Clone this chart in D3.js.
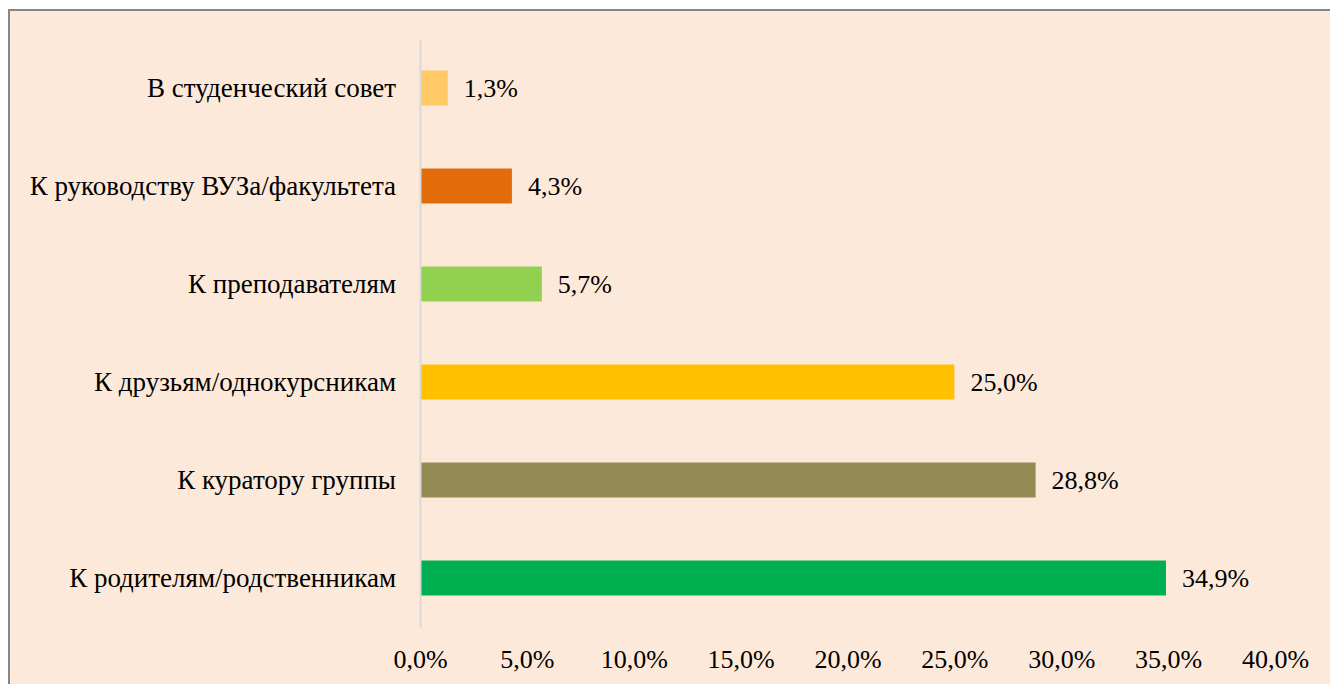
<!DOCTYPE html>
<html lang="ru">
<head>
<meta charset="UTF-8">
<title>Обращения</title>
<script src="https://cdn.jsdelivr.net/npm/d3@7"></script>
<style>
  body { margin: 0; background: #fff; }
</style>
</head>
<body>
<svg width="1330" height="684"></svg>
<script>
    // данные
    var categories = ["В студенческий совет", "К руководству ВУЗа/факультета", "К преподавателям",
                      "К друзьям/однокурсникам", "К куратору группы", "К родителям/родственникам"];
    var values = [1.3, 4.3, 5.7, 25.0, 28.8, 34.9];
    var tickValues = [0, 5, 10, 15, 20, 25, 30, 35, 40];
    var palette = ["#FFCA65", "#E36C0A", "#92D050", "#FFC000", "#948A54", "#00B050"];

    var FONT = "'Liberation Serif', 'Times New Roman', serif";

    var svg = d3.select('svg');

    // фон и рамка
    svg.append('rect')
        .attr('x', 9).attr('y', 10)
        .attr('width', 1340).attr('height', 700)
        .attr('fill', '#FDE9D9')
        .attr('stroke', '#868686')
        .attr('stroke-width', 2);

    var x = d3.scaleLinear().domain([0, 40]).range([420, 1275]);
    var y = d3.scaleBand().domain(categories).range([39, 627])
        .paddingInner(0.643).paddingOuter(0.3215);
    var color = d3.scaleOrdinal().domain(categories).range(palette);

    var fmt = function(v){ return d3.format('.1f')(v).replace('.', ',') + '%'; };

    // ось X (только подписи)
    var xAxis = svg.append('g')
        .attr('transform', 'translate(0,' + 668 + ')')
        .call(d3.axisBottom(x).tickValues(tickValues).tickFormat(fmt).tickSize(0).tickPadding(0));
    xAxis.select('.domain').remove();
    xAxis.selectAll('text')
        .style('font-family', FONT).style('font-size', '26px')
        .attr('fill', '#000').attr('dy', 0);

    // столбцы
    svg.append('g').selectAll('rect')
        .data(values)
        .enter().append('rect')
        .attr('x', x(0))
        .attr('y', function(d, i){ return y(categories[i]); })
        .attr('width', function(d){ return x(d) - x(0); })
        .attr('height', y.bandwidth())
        .attr('fill', function(d, i){ return color(categories[i]); });

    // ось Y
    var yAxis = svg.append('g')
        .attr('transform', 'translate(' + x(0) + ',0)')
        .call(d3.axisLeft(y).tickSize(0).tickSizeOuter(0).tickPadding(24));
    yAxis.select('.domain').attr('stroke', '#D9D9D9').attr('stroke-width', 2);
    yAxis.selectAll('text')
        .style('font-family', FONT).style('font-size', '27px')
        .attr('fill', '#000');

    // подписи значений
    svg.append('g').selectAll('text')
        .data(values)
        .enter().append('text')
        .attr('x', function(d){ return x(d) + 16; })
        .attr('y', function(d, i){ return y(categories[i]) + y.bandwidth() / 2; })
        .attr('dy', '0.35em')
        .style('font-family', FONT).style('font-size', '26px')
        .attr('fill', '#000')
        .text(fmt);
</script>
</body>
</html>
